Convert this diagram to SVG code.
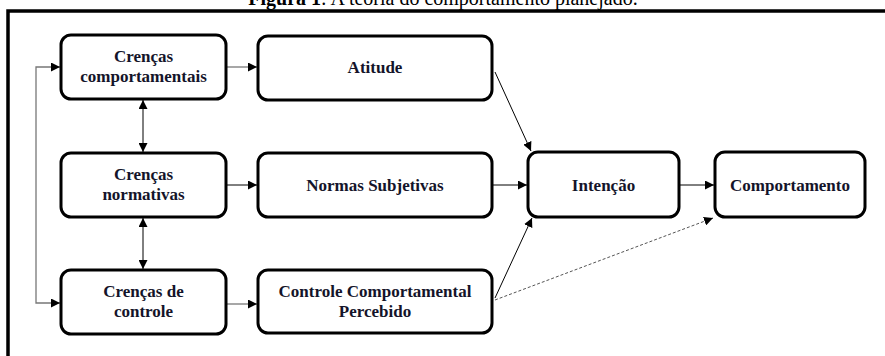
<svg xmlns="http://www.w3.org/2000/svg" width="885" height="356" viewBox="0 0 885 356">
<defs>
<style>
.box{fill:#fff;stroke:#000;stroke-width:3}
.t{font-family:"Liberation Serif","Times New Roman",serif;font-weight:bold;font-size:17px;fill:#14142a;text-anchor:middle}
.c{fill:none;stroke:#000;stroke-width:1}
.g{fill:none;stroke:#777;stroke-width:1.3}
.d{fill:none;stroke:#555;stroke-width:1;stroke-dasharray:3,2}
</style>
<marker id="a" viewBox="0 0 10 10" refX="10" refY="5" markerWidth="9" markerHeight="9" markerUnits="userSpaceOnUse" orient="auto-start-reverse">
<path d="M0,0 L10,5 L0,10 z" fill="#000"/>
</marker>
</defs>
<rect width="885" height="356" fill="#fff"/>
<text x="443" y="5" font-family="'Liberation Serif','Times New Roman',serif" font-size="20" text-anchor="middle" fill="#000"><tspan font-weight="bold">Figura 1</tspan>: A teoria do comportamento planejado.</text>
<path d="M8,360 V11 H890" fill="none" stroke="#000" stroke-width="3.5"/>
<g id="connectors">
<path class="g" d="M60,67 H36 V303 H60" marker-start="url(#a)" marker-end="url(#a)"/>
<line class="g" x1="227" y1="67" x2="257" y2="67" marker-end="url(#a)"/>
<line class="c" x1="143" y1="100" x2="143" y2="152" marker-start="url(#a)" marker-end="url(#a)"/>
<line class="c" x1="143" y1="218" x2="143" y2="269" marker-start="url(#a)" marker-end="url(#a)"/>
<line class="c" x1="227" y1="185" x2="257" y2="185" marker-end="url(#a)"/>
<line class="g" x1="227" y1="304" x2="257" y2="304" marker-end="url(#a)"/>
<line class="c" x1="495" y1="72" x2="531" y2="151" marker-end="url(#a)"/>
<line class="c" x1="493" y1="185" x2="527" y2="185" marker-end="url(#a)"/>
<line class="c" x1="495" y1="298" x2="532" y2="218" marker-end="url(#a)"/>
<line class="d" x1="495" y1="300" x2="713" y2="218" marker-end="url(#a)"/>
<line class="c" x1="680" y1="185" x2="714" y2="185" marker-end="url(#a)"/>
</g>
<g id="n1"><rect class="box" x="61" y="35" width="165" height="64" rx="10"/><text class="t" x="143.5" y="62">Crenças</text><text class="t" x="143.5" y="82">comportamentais</text></g>
<g id="n2"><rect class="box" x="258" y="36" width="234" height="64" rx="10"/><text class="t" x="375" y="73">Atitude</text></g>
<g id="n3"><rect class="box" x="61" y="153" width="165" height="64" rx="10"/><text class="t" x="143.5" y="180">Crenças</text><text class="t" x="143.5" y="200">normativas</text></g>
<g id="n4"><rect class="box" x="258" y="153" width="234" height="64" rx="10"/><text class="t" x="375" y="191">Normas Subjetivas</text></g>
<g id="n5"><rect class="box" x="61" y="270" width="165" height="64" rx="10"/><text class="t" x="143.5" y="297">Crenças de</text><text class="t" x="143.5" y="317">controle</text></g>
<g id="n6"><rect class="box" x="258" y="270" width="234" height="63" rx="10"/><text class="t" x="375" y="297">Controle Comportamental</text><text class="t" x="375" y="317">Percebido</text></g>
<g id="n7"><rect class="box" x="528" y="152" width="151" height="65" rx="10"/><text class="t" x="603.5" y="191">Intenção</text></g>
<g id="n8"><rect class="box" x="715" y="152" width="150" height="65" rx="10"/><text class="t" x="790" y="191">Comportamento</text></g>
</svg>
